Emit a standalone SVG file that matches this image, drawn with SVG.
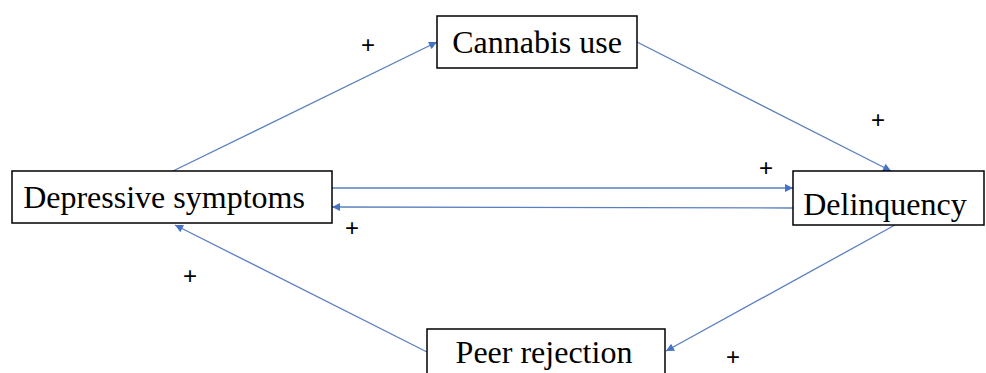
<svg xmlns="http://www.w3.org/2000/svg" width="986" height="373" viewBox="0 0 986 373">
<style>
.box{fill:#fff;stroke:#000;stroke-width:1.5}
.lbl{font-family:"Liberation Serif","Times New Roman",serif;font-size:32px;fill:#000}
.plus{font-family:"Liberation Sans",Arial,sans-serif;font-size:24px;fill:#000}
.edge{stroke:#5A7FC0;stroke-width:1.3;fill:none}
</style>
<defs>
<marker id="ah" viewBox="0 0 10 10" refX="10" refY="5" markerWidth="9" markerHeight="8" markerUnits="userSpaceOnUse" orient="auto">
<path d="M0,0 L10,5 L0,10 z" fill="#4472C4"/>
</marker>
</defs>
<rect width="986" height="373" fill="#fff"/>
<g id="connectors">
<line class="edge" x1="173" y1="171" x2="437" y2="42" marker-end="url(#ah)"/>
<line class="edge" x1="637" y1="42" x2="891" y2="171" marker-end="url(#ah)"/>
<line class="edge" x1="332" y1="188" x2="793" y2="188" marker-end="url(#ah)"/>
<line class="edge" x1="793" y1="208" x2="332" y2="207" marker-end="url(#ah)"/>
<line class="edge" x1="895" y1="225" x2="666" y2="351" marker-end="url(#ah)"/>
<line class="edge" x1="427" y1="352" x2="175" y2="225" marker-end="url(#ah)"/>
</g>
<g id="cannabis">
<rect class="box" x="437" y="16" width="200" height="52"/>
<text class="lbl" x="537" y="53" text-anchor="middle">Cannabis use</text>
</g>
<g id="depressive">
<rect class="box" x="12" y="171" width="320" height="52"/>
<text class="lbl" x="164" y="208" text-anchor="middle">Depressive symptoms</text>
</g>
<g id="delinquency">
<rect class="box" x="793" y="171" width="191" height="54"/>
<text class="lbl" x="885" y="215" text-anchor="middle">Delinquency</text>
</g>
<g id="peer">
<rect class="box" x="427" y="329" width="238" height="52"/>
<text class="lbl" x="544" y="363" text-anchor="middle">Peer rejection</text>
</g>
<g id="labels">
<text class="plus" x="368" y="53" text-anchor="middle">+</text>
<text class="plus" x="878" y="128" text-anchor="middle">+</text>
<text class="plus" x="766" y="176" text-anchor="middle">+</text>
<text class="plus" x="352" y="236" text-anchor="middle">+</text>
<text class="plus" x="190" y="284" text-anchor="middle">+</text>
<text class="plus" x="733" y="365" text-anchor="middle">+</text>
</g>
</svg>
